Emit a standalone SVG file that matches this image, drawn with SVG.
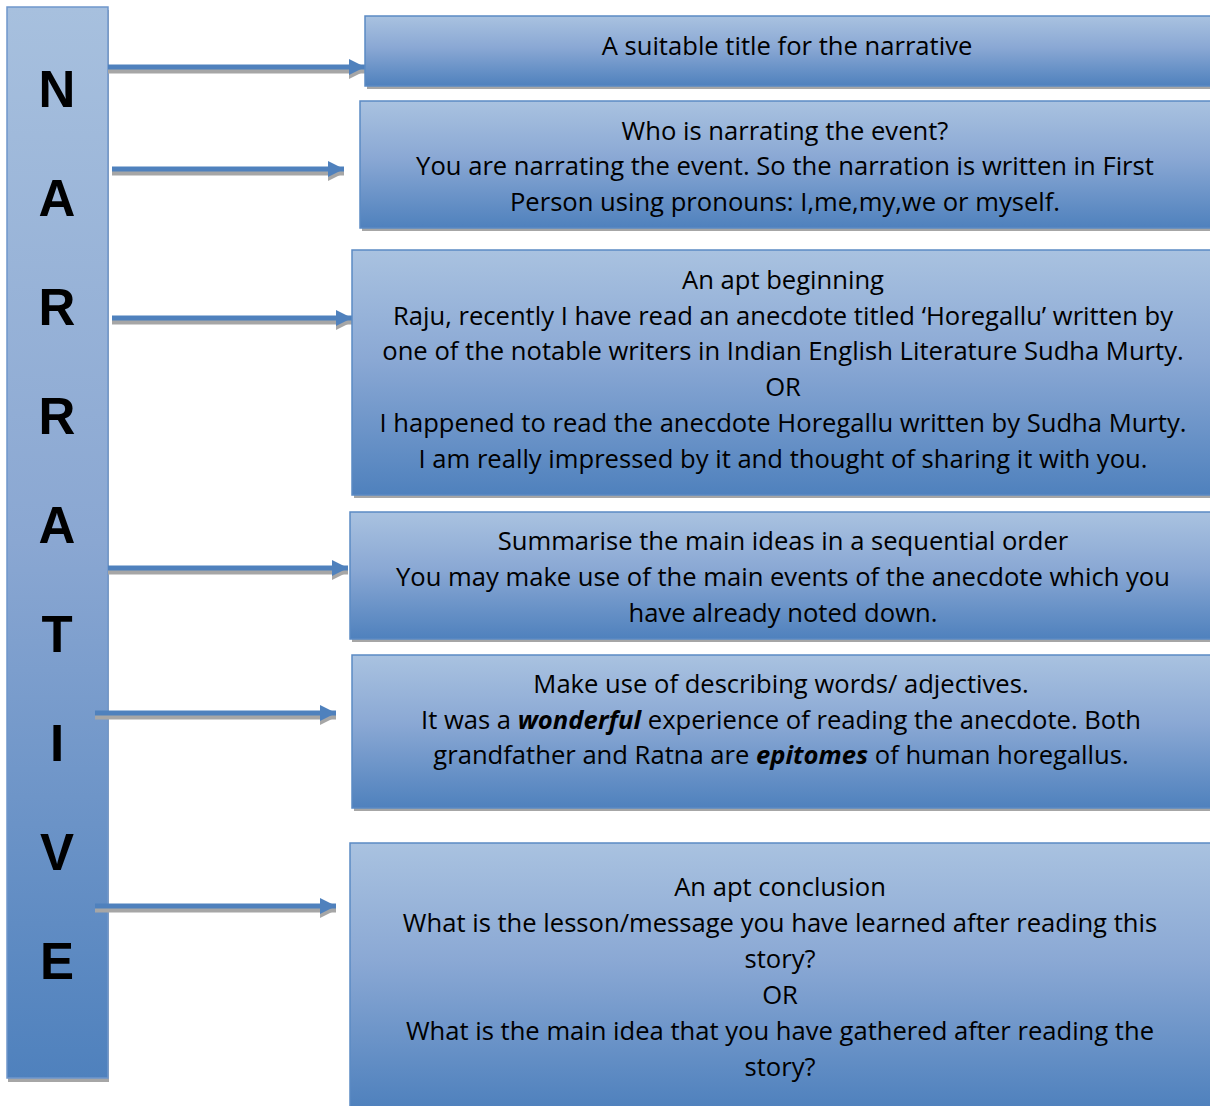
<svg xmlns="http://www.w3.org/2000/svg" width="1210" height="1106" viewBox="0 0 1210 1106">
<defs>
<linearGradient id="g" x1="0" y1="0" x2="0" y2="1">
<stop offset="0" stop-color="#a9c2e0"/>
<stop offset="0.45" stop-color="#8aa8d4"/>
<stop offset="1" stop-color="#4f81bd"/>
</linearGradient>
<linearGradient id="gbar" x1="0" y1="0" x2="0" y2="1">
<stop offset="0" stop-color="#a7c0de"/>
<stop offset="0.5" stop-color="#8aa7d2"/>
<stop offset="1" stop-color="#4f81bd"/>
</linearGradient>
<marker id="ah" viewBox="0 0 16 16" refX="16" refY="8" markerWidth="16" markerHeight="16" markerUnits="userSpaceOnUse" orient="auto">
<path d="M0,0 L16,8 L0,16 Z" fill="#4f81bd"/>
</marker>
<marker id="ahs" viewBox="0 0 16 16" refX="16" refY="8" markerWidth="16" markerHeight="16" markerUnits="userSpaceOnUse" orient="auto">
<path d="M0,0 L16,8 L0,16 Z" fill="#a6a6a6"/>
</marker>
</defs>
<style>
.box{fill:url(#g);stroke:#5b8ac4;stroke-width:1.5}
.bar{fill:url(#gbar);stroke:#6f97cc;stroke-width:1.5}
.sh{fill:#a6a6a6}
.t{font-family:"Open Sans","Noto Sans",sans-serif;font-size:25.6px;fill:#000;text-anchor:middle}
.L{font-family:"Liberation Sans",Arial,sans-serif;font-weight:bold;font-size:51px;fill:#000;text-anchor:middle}
.a{stroke:#4f81bd;stroke-width:5;fill:none;marker-end:url(#ah)}
.as{stroke:#a6a6a6;stroke-width:5;fill:none;marker-end:url(#ahs)}
</style>

<g id="bar">
<rect class="sh" x="8" y="10" width="101" height="1072"/>
<rect class="bar" x="7" y="7" width="101" height="1071"/>
<text class="L" x="57" y="107">N</text>
<text class="L" x="57" y="216">A</text>
<text class="L" x="57" y="325">R</text>
<text class="L" x="57" y="434">R</text>
<text class="L" x="57" y="543">A</text>
<text class="L" x="57" y="652">T</text>
<text class="L" x="57" y="761">I</text>
<text class="L" x="57" y="870">V</text>
<text class="L" x="57" y="979">E</text>
</g>

<g id="connectors">
<line class="as" x1="108" y1="71" x2="365" y2="71"/>
<line class="a" x1="108" y1="67" x2="365" y2="67"/>
<line class="as" x1="112" y1="173" x2="344" y2="173"/>
<line class="a" x1="112" y1="169" x2="344" y2="169"/>
<line class="as" x1="112" y1="322" x2="352" y2="322"/>
<line class="a" x1="112" y1="318" x2="352" y2="318"/>
<line class="as" x1="108" y1="572" x2="348" y2="572"/>
<line class="a" x1="108" y1="568" x2="348" y2="568"/>
<line class="as" x1="95" y1="717" x2="336" y2="717"/>
<line class="a" x1="95" y1="713" x2="336" y2="713"/>
<line class="as" x1="95" y1="910" x2="336" y2="910"/>
<line class="a" x1="95" y1="906" x2="336" y2="906"/>
</g>

<g id="box1">
<rect class="sh" x="367" y="19" width="845" height="70"/>
<rect class="box" x="365" y="16" width="846" height="70"/>
<text class="t" x="787" y="55">A suitable title for the narrative</text>
</g>

<g id="box2">
<rect class="sh" x="362" y="104" width="850" height="127"/>
<rect class="box" x="360" y="101" width="851" height="127"/>
<text class="t" x="785" y="140">Who is narrating the event?</text>
<text class="t" x="785" y="175">You are narrating the event. So the narration is written in First</text>
<text class="t" x="785" y="211">Person using pronouns: I,me,my,we or myself.</text>
</g>

<g id="box3">
<rect class="sh" x="354" y="253" width="858" height="245"/>
<rect class="box" x="352" y="250" width="859" height="245"/>
<text class="t" x="783" y="289">An apt beginning</text>
<text class="t" x="783" y="325">Raju, recently I have read an anecdote titled ‘Horegallu’ written by</text>
<text class="t" x="783" y="360">one of the notable writers in Indian English Literature Sudha Murty.</text>
<text class="t" x="783" y="396">OR</text>
<text class="t" x="783" y="432">I happened to read the anecdote Horegallu written by Sudha Murty.</text>
<text class="t" x="783" y="468">I am really impressed by it and thought of sharing it with you.</text>
</g>

<g id="box4">
<rect class="sh" x="352" y="515" width="860" height="127"/>
<rect class="box" x="350" y="512" width="861" height="127"/>
<text class="t" x="783" y="550">Summarise the main ideas in a sequential order</text>
<text class="t" x="783" y="586">You may make use of the main events of the anecdote which you</text>
<text class="t" x="783" y="622">have already noted down.</text>
</g>

<g id="box5">
<rect class="sh" x="354" y="658" width="858" height="153"/>
<rect class="box" x="352" y="655" width="859" height="153"/>
<text class="t" x="781" y="693">Make use of describing words/ adjectives.</text>
<text class="t" x="781" y="729">It was a <tspan font-weight="bold" font-style="italic">wonderful</tspan> experience of reading the anecdote. Both</text>
<text class="t" x="781" y="764">grandfather and Ratna are <tspan font-weight="bold" font-style="italic">epitomes</tspan> of human horegallus.</text>
</g>

<g id="box6">
<rect class="sh" x="352" y="846" width="860" height="264"/>
<rect class="box" x="350" y="843" width="861" height="264"/>
<text class="t" x="780" y="896">An apt conclusion</text>
<text class="t" x="780" y="932">What is the lesson/message you have learned after reading this</text>
<text class="t" x="780" y="968">story?</text>
<text class="t" x="780" y="1004">OR</text>
<text class="t" x="780" y="1040">What is the main idea that you have gathered after reading the</text>
<text class="t" x="780" y="1076">story?</text>
</g>
</svg>
